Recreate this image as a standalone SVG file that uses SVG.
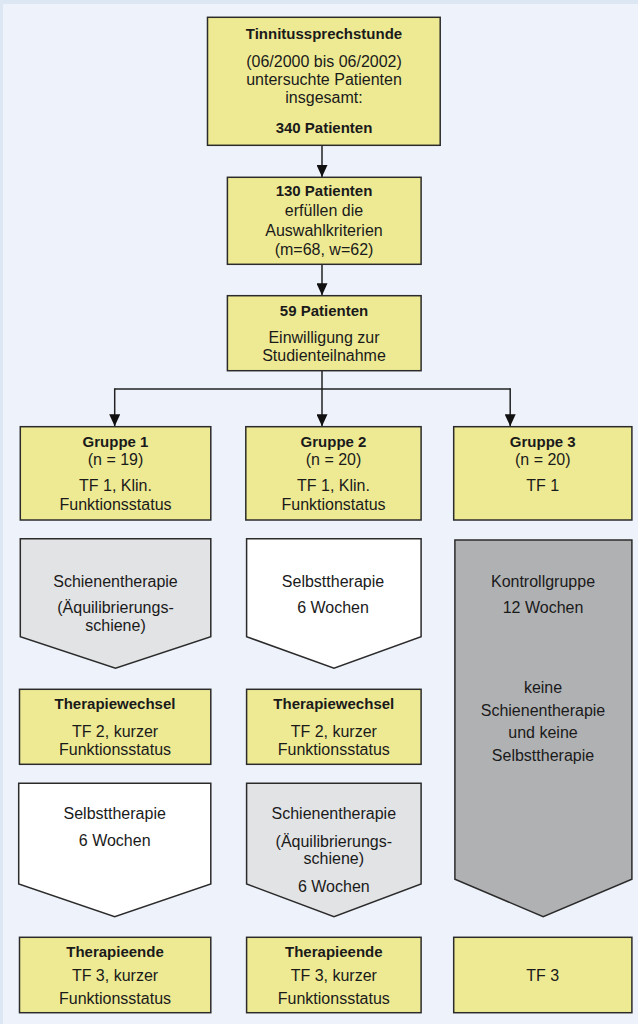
<svg xmlns="http://www.w3.org/2000/svg" width="638" height="1024" viewBox="0 0 638 1024">
<style>
.bx{fill:#eeea94;stroke:#2b2b2b;stroke-width:1.5}
.lg{fill:#e2e3e5;stroke:#2b2b2b;stroke-width:1.5}
.wh{fill:#ffffff;stroke:#2b2b2b;stroke-width:1.5}
.dg{fill:#b0b1b3;stroke:#2b2b2b;stroke-width:1.5}
text{font-family:"Liberation Sans",Arial,sans-serif;font-size:16px;fill:#1a1a1a;text-anchor:middle}
.b{font-weight:bold;font-size:15px}
.cn{fill:none;stroke:#222;stroke-width:1.5}
</style>
<defs>
<marker id="ah" markerUnits="userSpaceOnUse" markerWidth="12" markerHeight="11" refX="12" refY="5.5" orient="auto">
<path d="M0,0 L12,5.5 L0,11 z" fill="#111"/>
</marker>
</defs>
<rect x="0" y="0" width="638" height="1024" fill="#dde7f3"/>
<rect x="3" y="4" width="635" height="1020" fill="#eef2fa"/>

<g id="connectors">
<line class="cn" x1="322" y1="145.3" x2="322" y2="177" marker-end="url(#ah)"/>
<line class="cn" x1="322" y1="264.3" x2="322" y2="295.3" marker-end="url(#ah)"/>
<polyline class="cn" points="322,370.7 322,389"/>
<polyline class="cn" points="114.7,389 510.2,389"/>
<line class="cn" x1="114.7" y1="388.3" x2="114.7" y2="426.3" marker-end="url(#ah)"/>
<line class="cn" x1="322" y1="388.3" x2="322" y2="426.3" marker-end="url(#ah)"/>
<line class="cn" x1="510.2" y1="388.3" x2="510.2" y2="426.3" marker-end="url(#ah)"/>
</g>

<g id="n_tinnitus">
<rect class="bx" x="207.5" y="17.3" width="232.7" height="128"/>
<text class="b" x="324" y="39.3">Tinnitussprechstunde</text>
<text x="324" y="66.5">(06/2000 bis 06/2002)</text>
<text x="324" y="85">untersuchte Patienten</text>
<text x="324" y="103.3">insgesamt:</text>
<text class="b" x="324" y="133.3">340 Patienten</text>
</g>

<g id="n_130">
<rect class="bx" x="227.4" y="177.3" width="193.7" height="87"/>
<text class="b" x="324" y="196">130 Patienten</text>
<text x="324" y="215.7">erfüllen die</text>
<text x="324" y="235.7">Auswahlkriterien</text>
<text x="324" y="255">(m=68, w=62)</text>
</g>

<g id="n_59">
<rect class="bx" x="227.4" y="295.7" width="193.7" height="75"/>
<text class="b" x="324" y="315.7">59 Patienten</text>
<text x="324" y="343.3">Einwilligung zur</text>
<text x="324" y="360.7">Studienteilnahme</text>
</g>

<g id="g1">
<rect class="bx" x="20.3" y="426.7" width="190.5" height="93.3"/>
<text class="b" x="115.5" y="446.7">Gruppe 1</text>
<text x="115.5" y="464.5">(n = 19)</text>
<text x="115.5" y="491">TF 1, Klin.</text>
<text x="115.5" y="510">Funktionsstatus</text>
</g>

<g id="g2">
<rect class="bx" x="245.8" y="426.7" width="175.3" height="93.3"/>
<text class="b" x="333.5" y="446.7">Gruppe 2</text>
<text x="333.5" y="464.5">(n = 20)</text>
<text x="333.5" y="491">TF 1, Klin.</text>
<text x="333.5" y="510">Funktionstatus</text>
</g>

<g id="g3">
<rect class="bx" x="453.7" y="426.7" width="178.2" height="93.3"/>
<text class="b" x="542.8" y="446.7">Gruppe 3</text>
<text x="542.8" y="464.5">(n = 20)</text>
<text x="542.8" y="491">TF 1</text>
</g>

<g id="g1_schiene">
<polygon class="lg" points="20.3,538.7 210.8,538.7 210.8,636.7 115.5,668.3 20.3,636.7"/>
<text x="115.5" y="587.3">Schienentherapie</text>
<text x="115.5" y="613.3">(Äquilibrierungs-</text>
<text x="115.5" y="631">schiene)</text>
</g>

<g id="g2_selbst">
<polygon class="wh" points="246.6,538.7 421.1,538.7 421.1,636.7 334,668.3 246.6,636.7"/>
<text x="333" y="587.3">Selbsttherapie</text>
<text x="333" y="612.7">6 Wochen</text>
</g>

<g id="g3_kontroll">
<polygon class="dg" points="454.9,540 631.9,540 631.9,879.3 543.2,916.7 454.9,879.3"/>
<text x="543" y="587.3">Kontrollgruppe</text>
<text x="543" y="612.7">12 Wochen</text>
<text x="543" y="692.7">keine</text>
<text x="543" y="715.7">Schienentherapie</text>
<text x="543" y="738.3">und keine</text>
<text x="543" y="760.7">Selbsttherapie</text>
</g>

<g id="g1_wechsel">
<rect class="bx" x="19.5" y="689.3" width="191.3" height="75"/>
<text class="b" x="115" y="709.3">Therapiewechsel</text>
<text x="115" y="736.7">TF 2, kurzer</text>
<text x="115" y="755">Funktionsstatus</text>
</g>

<g id="g2_wechsel">
<rect class="bx" x="246.6" y="689.3" width="174.5" height="75"/>
<text class="b" x="333.8" y="709.3">Therapiewechsel</text>
<text x="333.8" y="736.7">TF 2, kurzer</text>
<text x="333.8" y="755">Funktionsstatus</text>
</g>

<g id="g1_selbst">
<polygon class="wh" points="18.7,783.3 210.8,783.3 210.8,884 114.7,916.7 18.7,884"/>
<text x="114.7" y="819.3">Selbsttherapie</text>
<text x="114.7" y="845.7">6 Wochen</text>
</g>

<g id="g2_schiene">
<polygon class="lg" points="246.6,783.3 421.1,783.3 421.1,884 334,916.7 246.6,884"/>
<text x="333.8" y="819.3">Schienentherapie</text>
<text x="333.8" y="846.7">(Äquilibrierungs-</text>
<text x="333.8" y="864.3">schiene)</text>
<text x="333.8" y="891.7">6 Wochen</text>
</g>

<g id="g1_ende">
<rect class="bx" x="19.5" y="937.3" width="191.3" height="75.4"/>
<text class="b" x="115" y="956.7">Therapieende</text>
<text x="115" y="980.7">TF 3, kurzer</text>
<text x="115" y="1004.3">Funktionsstatus</text>
</g>

<g id="g2_ende">
<rect class="bx" x="246.6" y="937.3" width="174.5" height="75.4"/>
<text class="b" x="333.8" y="956.7">Therapieende</text>
<text x="333.8" y="980.7">TF 3, kurzer</text>
<text x="333.8" y="1004.3">Funktionsstatus</text>
</g>

<g id="g3_ende">
<rect class="bx" x="453.7" y="937.3" width="178.2" height="75.4"/>
<text x="542.8" y="980.7">TF 3</text>
</g>
</svg>
